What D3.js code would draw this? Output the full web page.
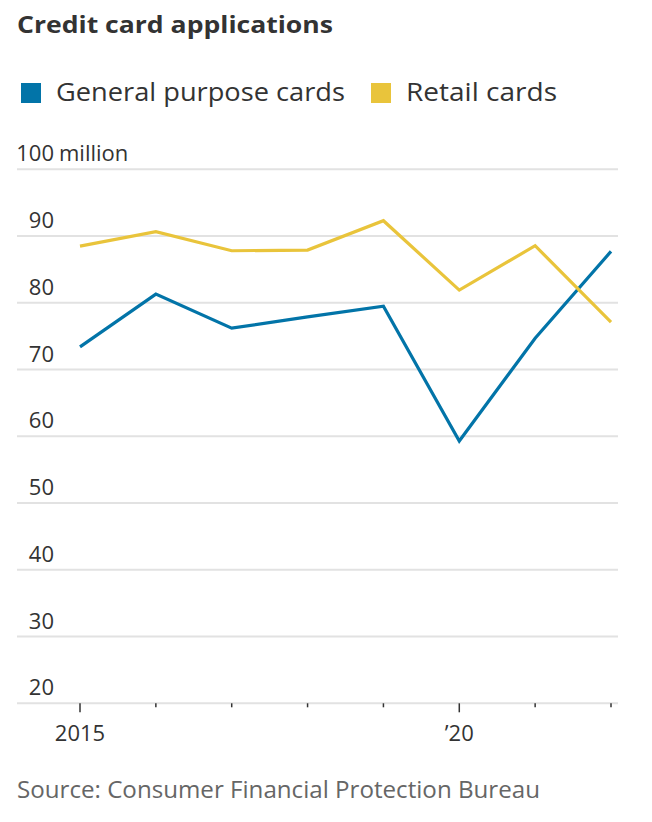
<!DOCTYPE html>
<html>
<head>
<meta charset="utf-8">
<script src="https://cdn.jsdelivr.net/npm/d3@7"></script>
<style>
  body { margin: 0; background: #fff; }
  svg { display: block; font-family: "Open Sans", Roboto, sans-serif; }
</style>
</head>
<body>
<svg id="chart" width="652" height="822"></svg>
<script>
const years = [2015, 2016, 2017, 2018, 2019, 2020, 2021, 2022]
const generalPurpose = [73.4, 81.3, 76.2, 77.9, 79.5, 59.3, 74.7, 87.7]
const retail = [88.5, 90.65, 87.8, 87.9, 92.3, 81.9, 88.55, 77.1]
const yTicks = [20, 30, 40, 50, 60, 70, 80, 90, 100]
const seriesNames = ['General purpose cards', 'Retail cards']
const seriesColors = ['#0274a8', '#e9c43b']

const svg = d3.select('#chart')
const textColor = '#333'

const x = d3.scaleLinear().domain([2015, 2022]).range([80, 611])
const y = d3.scaleLinear().domain([20, 100]).range([703.3, 169.3])

// squeeze or stretch a text node to the width seen in the reference
const fitWidth = (sel, w) => {
  const len = sel.node().getComputedTextLength()
  if (Math.abs(len - w) > 2) sel.attr('textLength', w).attr('lengthAdjust', 'spacingAndGlyphs')
  return sel
}

// title
fitWidth(svg.append('text')
  .attr('x', 17).attr('y', 33)
  .attr('font-size', 24).attr('font-weight', 700)
  .attr('fill', textColor)
  .text('Credit card applications'), 316)

// legend
const legendX = [21, 371]
const legendW = [289, 151]
seriesNames.forEach((name, i) => {
  svg.append('rect')
    .attr('x', legendX[i]).attr('y', 83)
    .attr('width', 20).attr('height', 20)
    .attr('fill', seriesColors[i])
  fitWidth(svg.append('text')
    .attr('x', legendX[i] + 35).attr('y', 101)
    .attr('font-size', 26)
    .attr('fill', textColor)
    .text(name), legendW[i])
})

// gridlines
svg.append('g')
  .selectAll('line')
  .data(yTicks)
  .join('line')
  .attr('x1', 17).attr('x2', 618)
  .attr('y1', d => y(d)).attr('y2', d => y(d))
  .attr('stroke', '#e2e2e2')
  .attr('stroke-width', 2)

// y labels
svg.append('g')
  .selectAll('text')
  .data(yTicks)
  .join('text')
  .attr('x', 54)
  .attr('y', d => y(d) - 8)
  .attr('text-anchor', 'end')
  .attr('font-size', 22)
  .attr('fill', textColor)
  .text(d => d)

svg.append('text')
  .attr('x', 59).attr('y', y(100) - 8)
  .attr('font-size', 22)
  .attr('fill', textColor)
  .text('million')

// x ticks
const isMajor = d => d === 2015 || d === 2020
svg.append('g')
  .selectAll('line')
  .data(years)
  .join('line')
  .attr('x1', d => x(d)).attr('x2', d => x(d))
  .attr('y1', y(20)).attr('y2', d => y(20) + (isMajor(d) ? 9 : 4))
  .attr('stroke', textColor)
  .attr('stroke-width', 1.5)

svg.append('g')
  .selectAll('text')
  .data(years.filter(isMajor))
  .join('text')
  .attr('x', d => x(d))
  .attr('y', 741)
  .attr('text-anchor', 'middle')
  .attr('font-size', 22)
  .attr('fill', textColor)
  .text(d => d === 2015 ? '2015' : '\u2019' + String(d).slice(2))

// lines
const line = d3.line()
  .x((d, i) => x(years[i]))
  .y(d => y(d))

;[generalPurpose, retail].forEach((vals, i) => {
  svg.append('path')
    .datum(vals)
    .attr('d', line)
    .attr('fill', 'none')
    .attr('stroke', seriesColors[i])
    .attr('stroke-width', 3.2)
    .attr('stroke-linejoin', 'miter')
})

// source
fitWidth(svg.append('text')
  .attr('x', 17).attr('y', 798)
  .attr('font-size', 23)
  .attr('fill', '#666')
  .text('Source: Consumer Financial Protection Bureau'), 523)
</script>
</body>
</html>
